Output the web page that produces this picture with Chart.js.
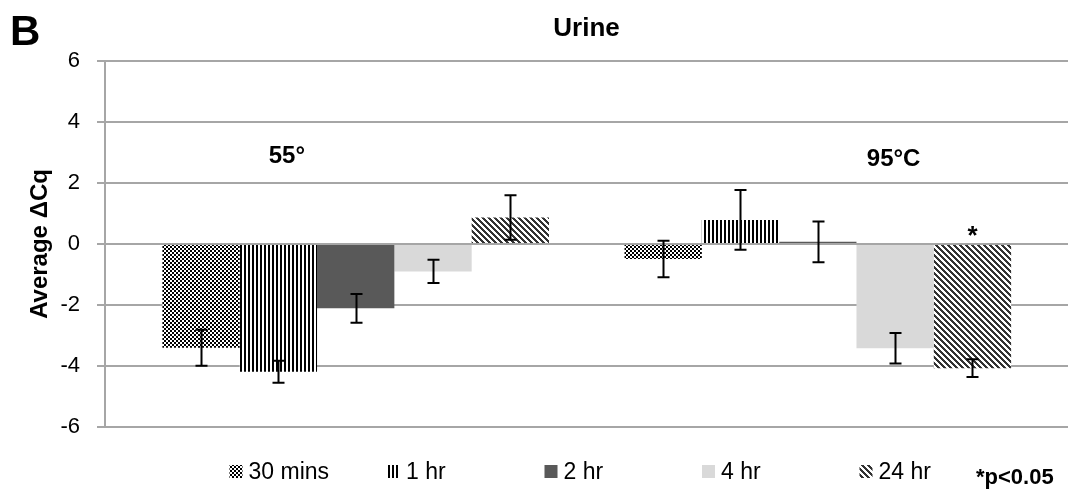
<!DOCTYPE html>
<html>
<head>
<meta charset="utf-8">
<script src="https://cdn.jsdelivr.net/npm/chart.js@4.4.1/dist/chart.umd.min.js"></script>
<style>
  html, body { margin: 0; padding: 0; background: #ffffff; }
  #wrap { width: 1072px; height: 494px; position: relative; }
</style>
</head>
<body>
<div id="wrap"><canvas id="c" width="1072" height="494"></canvas></div>
<script>
// Temperature groups (x positions 0 and 1) and incubation times
const groups = ['55°', '95°C'];
const seriesNames = ['30 mins', '1 hr', '2 hr', '4 hr', '24 hr'];

// Average ΔCq per group
const mins30 = [-3.40, -0.49];
const hr1    = [-4.19,  0.79];
const hr2    = [-2.11,  0.07];
const hr4    = [-0.90, -3.42];
const hr24   = [ 0.87, -4.07];

// Error bar half-lengths
const mins30Err = [0.59, 0.60];
const hr1Err    = [0.36, 0.98];
const hr2Err    = [0.47, 0.67];
const hr4Err    = [0.38, 0.50];
const hr24Err   = [0.73, 0.29];

// Significance flags for the 24 hr series
const hr24Sig = [false, true];

const yTicks = [-6, -4, -2, 0, 2, 4, 6];

const FONT = "'Liberation Sans', Arial, Helvetica, sans-serif";

// ---- fill patterns ----
function makeTile(w, h, draw) {
  const cv = document.createElement('canvas');
  cv.width = w; cv.height = h;
  const g = cv.getContext('2d');
  g.fillStyle = '#ffffff';
  g.fillRect(0, 0, w, h);
  draw(g);
  return document.createElement('canvas').getContext('2d').createPattern(cv, 'repeat');
}
const checkerFill = makeTile(4, 4, g => {
  g.fillStyle = '#000000';
  g.fillRect(0, 0, 2, 2);
  g.fillRect(2, 2, 2, 2);
});
const vstripeFill = makeTile(4, 4, g => {
  g.fillStyle = '#000000';
  g.fillRect(0, 0, 2, 4);
});
const diagFill = makeTile(6, 6, g => {
  g.fillStyle = '#333333';
  for (let y = 0; y < 6; y++) {
    for (let x = 0; x < 6; x++) {
      const d = ((x - y) % 6 + 6) % 6;
      if (d < 3) g.fillRect(x, y, 1, 1);
    }
  }
});
const fills = [checkerFill, vstripeFill, '#595959', '#d9d9d9', diagFill];

const values = [mins30, hr1, hr2, hr4, hr24];
const errors = [mins30Err, hr1Err, hr2Err, hr4Err, hr24Err];

const datasets = seriesNames.map((name, s) => ({
  label: name,
  data: values[s].map((v, i) => ({ x: i, y: v })),
  errors: errors[s],
  backgroundColor: fills[s],
  borderWidth: 0,
  categoryPercentage: 0.8366,
  barPercentage: 1.0
}));

// Error bars drawn from each bar's value and its half-length
const errorBars = {
  id: 'errorBars',
  afterDatasetsDraw(chart) {
    const ctx = chart.ctx;
    const ys = chart.scales.y;
    ctx.save();
    ctx.strokeStyle = '#000000';
    ctx.lineWidth = 2;
    chart.data.datasets.forEach((ds, di) => {
      const meta = chart.getDatasetMeta(di);
      meta.data.forEach((bar, i) => {
        const v = ds.data[i].y, e = ds.errors[i];
        const x = Math.round(bar.x) + 0.5;
        const t = ys.getPixelForValue(v + e);
        const b = ys.getPixelForValue(v - e);
        ctx.beginPath();
        ctx.moveTo(x, t); ctx.lineTo(x, b);
        ctx.moveTo(x - 6, t); ctx.lineTo(x + 6, t);
        ctx.moveTo(x - 6, b); ctx.lineTo(x + 6, b);
        ctx.stroke();
      });
    });
    ctx.restore();
  }
};

// Group captions, significance star, panel letter, legend and footnote
const annotations = {
  id: 'annotations',
  afterDraw(chart) {
    const ctx = chart.ctx;
    const xs = chart.scales.x, ys = chart.scales.y;
    ctx.save();
    ctx.fillStyle = '#000000';

    // group captions inside the plot
    const capPos = [{ dx: -0.149, y: 2.88 }, { dx: 0.164, y: 2.78 }];
    ctx.font = 'bold 24px ' + FONT;
    ctx.textAlign = 'center';
    ctx.textBaseline = 'middle';
    groups.forEach((g, i) => {
      ctx.fillText(g, xs.getPixelForValue(i + capPos[i].dx), ys.getPixelForValue(capPos[i].y));
    });

    // significance star over the 24 hr bars
    const meta24 = chart.getDatasetMeta(4);
    ctx.font = 'bold 26px ' + FONT;
    ctx.textBaseline = 'alphabetic';
    hr24Sig.forEach((sig, i) => {
      if (!sig) return;
      const top = Math.min(ys.getPixelForValue(0), ys.getPixelForValue(hr24[i]));
      ctx.fillText('*', meta24.data[i].x, top);
    });

    // panel letter
    ctx.font = 'bold 42px ' + FONT;
    ctx.textAlign = 'left';
    ctx.textBaseline = 'middle';
    ctx.fillText('B', 10, 33);

    // legend
    const startX = 229.5, step = 157.5, boxY = 465, box = 13;
    ctx.font = '23px ' + FONT;
    seriesNames.forEach((name, s) => {
      const x = startX + s * step;
      ctx.fillStyle = fills[s];
      ctx.fillRect(x, boxY, box, box);
      ctx.fillStyle = '#000000';
      ctx.fillText(name, x + 19, boxY + box / 2 + 1);
    });

    // footnote
    ctx.font = 'bold 22px ' + FONT;
    ctx.fillText('*p<0.05', 976, 478);
    ctx.restore();
  }
};

new Chart(document.getElementById('c'), {
  type: 'bar',
  data: { datasets },
  options: {
    responsive: false,
    animation: false,
    devicePixelRatio: 1,
    layout: { padding: { left: 0, right: 4, top: 9, bottom: 67 } },
    plugins: {
      legend: { display: false },
      tooltip: { enabled: false },
      title: {
        display: true,
        text: 'Urine',
        fullSize: false,
        color: '#000000',
        font: { size: 26, weight: 'bold', family: FONT },
        padding: { top: 4, bottom: 16.8 }
      }
    },
    scales: {
      x: {
        type: 'linear',
        display: false,
        offset: false,
        min: -0.5425,
        max: 1.5414,
        afterBuildTicks: s => { s.ticks = groups.map((g, i) => ({ value: i })); }
      },
      y: {
        min: -6,
        max: 6,
        afterBuildTicks: s => { s.ticks = yTicks.map(v => ({ value: v })); },
        afterFit: s => { s.width = 105; },
        ticks: { color: '#000000', font: { size: 22, family: FONT }, padding: 17 },
        grid: { color: '#a6a6a6', lineWidth: 2, tickLength: 8, drawTicks: true },
        border: { display: true, color: '#a6a6a6', width: 2 },
        title: {
          display: true,
          text: 'Average ΔCq',
          color: '#000000',
          font: { size: 24, weight: 'bold', family: FONT },
          padding: { top: 26, bottom: 0 }
        }
      }
    }
  },
  plugins: [errorBars, annotations]
});
</script>
</body>
</html>
